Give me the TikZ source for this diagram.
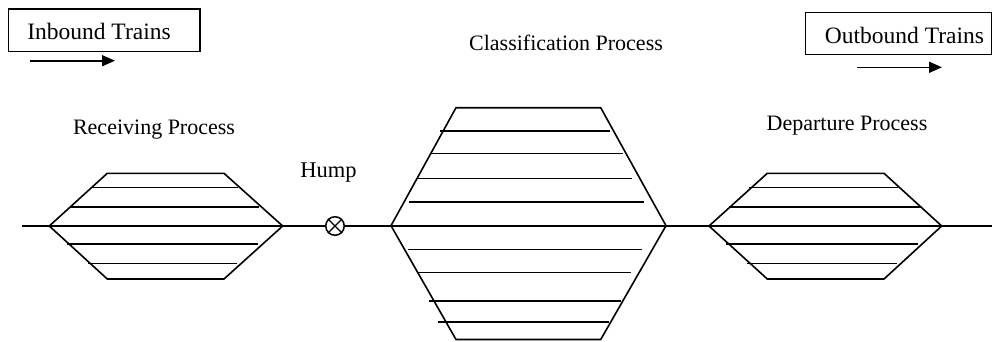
\documentclass[tikz,border=0pt]{standalone}
\usepackage{fontspec}
\setmainfont{Liberation Serif}
\usetikzlibrary{arrows.meta}
\begin{document}
\begin{tikzpicture}[x=1pt,y=-1pt,
  track/.style={line width=1.6pt},
  yard/.style={line width=1.6pt, line join=miter},
  labelbox/.style={draw, line width=1.5pt},
  caption/.style={font=\fontsize{22}{24}\selectfont, anchor=base, inner sep=0pt},
  boxtext/.style={font=\fontsize{23.5}{26}\selectfont, anchor=base, inner sep=0pt},
  flow/.style={line width=1.6pt, -{Triangle[length=13pt,width=11pt]}},
  hump/.style={circle, draw, line width=1.5pt, minimum size=18.5pt, inner sep=0pt}]
\useasboundingbox (0,0) rectangle (992,341);

% direction boxes
\draw[labelbox] (8.5,9) rectangle (200,51.5);
\node[boxtext] (inb) at (99,39.3) {Inbound Trains};
\coordinate (inA) at (30,60.7);
\coordinate (inB) at (115,60.7);
\draw[flow] (inA) -- (inB);

\draw[labelbox] (805.7,12.3) rectangle (991.5,54.3);
\node[boxtext] (outb) at (904.5,43.3) {Outbound Trains};
\coordinate (outA) at (857,67.3);
\coordinate (outB) at (942,67.3);
\draw[flow] (outA) -- (outB);

% process captions
\node[caption] (rcv) at (154,134.3) {Receiving Process};
\node[caption] (cls) at (566,50.7) {Classification Process};
\node[caption] (dep) at (847,130) {Departure Process};
\node[caption, font=\fontsize{22.5}{24}\selectfont] (humpl) at (328.5,177) {Hump};

% hump
\node[hump] (h) at (335,226) {};
\draw[line width=1.3pt] (h.north west) -- (h.south east) (h.north east) -- (h.south west);

% main line
\coordinate (W) at (22,226);
\coordinate (E) at (992,226);
\draw[track] (W) -- (h.west);
\draw[track] (h.east) -- (E);

% receiving yard
\draw[yard] (49.3,226) -- (107.3,173.3) -- (224,173.3) -- (282.7,226) -- (224,279) -- (107.3,279) -- cycle;
\draw[track] (91.7,187.3) -- (238.3,187.3);
\draw[track] (70,206.7) -- (259.3,206.7);
\draw[track] (66.7,244) -- (258.3,244);
\draw[track] (88.3,263.3) -- (236.7,263.3);

% classification yard
\draw[yard] (391,225.7) -- (456,107.7) -- (600.7,107.7) -- (666,225.7) -- (600.7,339.5) -- (456,339.5) -- cycle;
\draw[track] (440,131) -- (610,131);
\draw[track] (430.7,153.3) -- (622.7,153.3);
\draw[track] (418.3,178.3) -- (631.7,178.3);
\draw[track] (409.3,201.7) -- (644,201.7);
\draw[track] (407.7,249.3) -- (642.3,249.3);
\draw[track] (417.3,272.3) -- (631,272.3);
\draw[track] (429,300.7) -- (620.7,300.7);
\draw[track] (437.7,321.7) -- (609.3,321.7);

% departure yard
\draw[yard] (709,226) -- (767.3,173.3) -- (884,173.3) -- (941.7,226) -- (884,279) -- (767.3,279) -- cycle;
\draw[track] (749.3,187.3) -- (898.3,187.3);
\draw[track] (729.3,206.7) -- (920.7,206.7);
\draw[track] (726,244) -- (917.7,244);
\draw[track] (747.3,263.3) -- (896.7,263.3);
\end{tikzpicture}
\end{document}
